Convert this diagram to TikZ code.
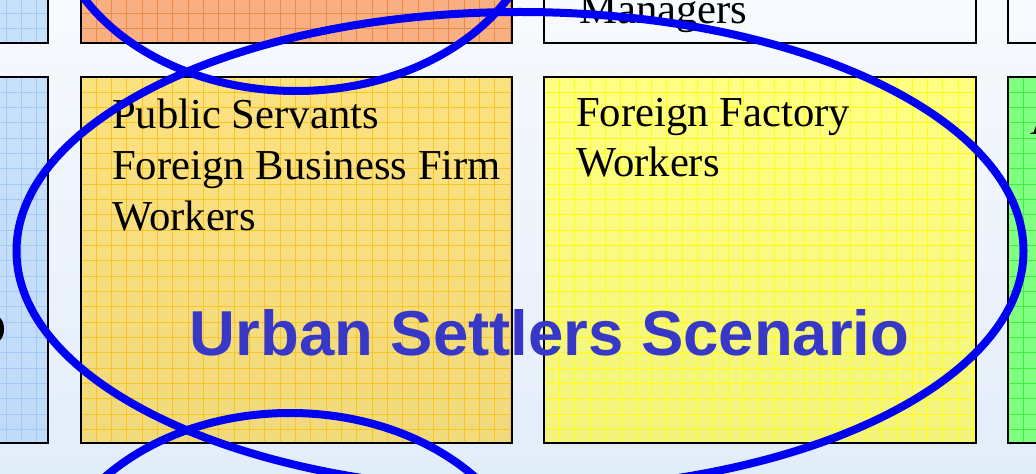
\documentclass[tikz,border=0pt]{standalone}
\usepackage{fontspec}
\setmainfont{Liberation Serif}
\newfontfamily\titlefont{Liberation Sans}
\definecolor{bgtop}{HTML}{F7FAFE}
\definecolor{bgbot}{HTML}{E2EDFA}
\definecolor{bluetop}{HTML}{C8E1FB}
\definecolor{bluebot}{HTML}{C0DBF9}
\definecolor{bluegrid}{HTML}{A4C9F5}
\definecolor{orangef}{HTML}{F8B082}
\definecolor{orangegrid}{HTML}{EE8A46}
\definecolor{goldtop}{HTML}{FCE17F}
\definecolor{goldbot}{HTML}{F1DA7C}
\definecolor{goldgrid}{HTML}{F8C524}
\definecolor{yeltop}{HTML}{FFFF82}
\definecolor{yelbot}{HTML}{F2F47C}
\definecolor{yelgrid}{HTML}{FFFF10}
\definecolor{greenf}{HTML}{80FF80}
\definecolor{greengrid}{HTML}{40EE40}
\definecolor{titleblue}{HTML}{3838C8}
\definecolor{ellblue}{HTML}{0000F4}
\newcommand\mygridbox[9]{%
  \begin{scope}
    \clip (#1,#2) rectangle (#3,#4);
    \shade[top color=#7,bottom color=#8] (#1,#2) rectangle (#3,#4);
    \begin{scope}[shift={(#5,#6)}]
      \draw[gridline,#9,step=11.5pt] ({#1-#5-20},{#2-#6-20}) grid ({#3-#5+20},{#4-#6+20});
    \end{scope}
  \end{scope}
  \draw[boxline] (#1,#2) rectangle (#3,#4);
}
\begin{document}
\begin{tikzpicture}[x=0.75pt,y=-0.75pt,
  boxline/.style={draw=black,line width=1.75pt},
  gridline/.style={line width=0.55pt},
  boxtext/.style={inner sep=0pt,anchor=base west,font=\fontsize{32}{38}\selectfont},
  titletext/.style={inner sep=0pt,anchor=base west,text=titleblue,font=\titlefont\bfseries\fontsize{47.6}{56}\selectfont},
  ell/.style={draw=ellblue,line width=6pt}]
\useasboundingbox (0,0) rectangle (1036,474);
\shade[top color=bgtop,bottom color=bgbot] (0,0) rectangle (1036,474);
% top row
\mygridbox{-383}{-300}{47.7}{43.3}{6}{13.3}{bluetop}{bluetop}{bluegrid}
\mygridbox{80.7}{-300}{511.7}{43.3}{80.7}{13.3}{orangef}{orangef}{orangegrid}
\draw[boxline] (544,-300) rectangle (975.7,43.3);
\draw[boxline] (1008.3,-300) rectangle (1439,43.3);
% middle row
\mygridbox{-383}{76.7}{47.7}{443.3}{6}{76.7}{bluetop}{bluebot}{bluegrid}
\mygridbox{80.7}{76.7}{511.7}{443.3}{80.7}{76.7}{goldtop}{goldbot}{goldgrid}
\mygridbox{544}{76.7}{975.7}{443.3}{544}{76.7}{yeltop}{yelbot}{yelgrid}
\mygridbox{1008.3}{76.7}{1439}{443.3}{1008.3}{76.7}{greenf}{greenf}{greengrid}
% texts
\node[boxtext] (mg) at (579,24) {Managers};
\node[boxtext] (ps) at (112,129) {Public Servants};
\node[boxtext] (fbf) at (112,180) {Foreign Business Firm};
\node[boxtext] (wk1) at (112,231) {Workers};
\node[boxtext] (ff) at (576,126.7) {Foreign Factory};
\node[boxtext] (wk2) at (576,177) {Workers};
\node[boxtext] (ga) at (1030,135) {A};
\node[boxtext] (bo) at (-25,343) {O};
% ellipses
\draw[ell] (296,-93) ellipse [x radius=244, y radius=184];
\draw[ell] (290,597) ellipse [x radius=244, y radius=184];
\draw[ell] (520,251) ellipse [x radius=503.5, y radius=239];
\node[titletext] (ust) at (189.5,355) {Urban Settlers Scenario};
\end{tikzpicture}
\end{document}
